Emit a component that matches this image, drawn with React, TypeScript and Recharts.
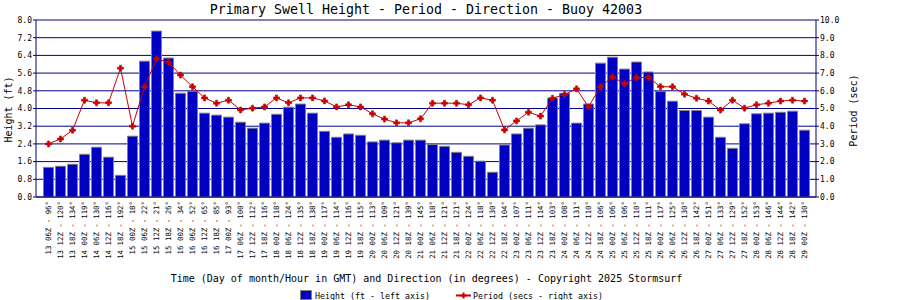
import React from "react";
import { ComposedChart, Bar, Line, XAxis, YAxis, CartesianGrid, Label } from "recharts";

const times = ["13 06Z","13 12Z","13 18Z","14 00Z","14 06Z","14 12Z","14 18Z","15 00Z","15 06Z","15 12Z","15 18Z","16 00Z","16 06Z","16 12Z","16 18Z","17 00Z","17 06Z","17 12Z","17 18Z","18 00Z","18 06Z","18 12Z","18 18Z","19 00Z","19 06Z","19 12Z","19 18Z","20 00Z","20 06Z","20 12Z","20 18Z","21 00Z","21 06Z","21 12Z","21 18Z","22 00Z","22 06Z","22 12Z","22 18Z","23 00Z","23 06Z","23 12Z","23 18Z","24 00Z","24 06Z","24 12Z","24 18Z","25 00Z","25 06Z","25 12Z","25 18Z","26 00Z","26 06Z","26 12Z","26 18Z","27 00Z","27 06Z","27 12Z","27 18Z","28 00Z","28 06Z","28 12Z","28 18Z","29 00Z"];

const directions = [96,120,134,119,130,116,192,18,22,21,26,34,52,65,85,93,100,112,116,118,124,135,138,117,114,116,115,113,109,121,139,145,118,121,121,124,118,130,104,107,111,114,103,108,131,110,106,106,106,110,111,117,125,130,142,151,133,129,152,153,146,144,142,130];

const heights = [
  1.34, 1.39, 1.48, 1.93, 2.25, 1.80, 0.98, 2.75, 6.14, 7.50, 6.28, 4.69, 4.78, 3.79, 3.70, 3.61,
  3.38, 3.11, 3.34, 3.74, 4.06, 4.20, 3.79, 2.97, 2.70, 2.85, 2.79, 2.49, 2.57, 2.45, 2.57, 2.57,
  2.37, 2.29, 2.02, 1.84, 1.62, 1.12, 2.35, 2.85, 3.11, 3.26, 4.47, 4.69, 3.34, 4.20, 6.05, 6.32,
  5.78, 6.10, 5.65, 4.78, 4.33, 3.91, 3.91, 3.61, 2.70, 2.20, 3.31, 3.76, 3.79, 3.83, 3.88, 3.02,
];

const periods = [
  3.0, 3.28, 3.77, 5.47, 5.32, 5.32, 7.28, 4.0, 6.23, 7.81, 7.62, 6.89, 6.23, 5.60, 5.30, 5.47,
  4.92, 5.02, 5.09, 5.60, 5.32, 5.60, 5.60, 5.43, 5.09, 5.21, 5.09, 4.70, 4.40, 4.19, 4.19, 4.42,
  5.30, 5.30, 5.30, 5.21, 5.60, 5.47, 3.79, 4.30, 4.79, 4.57, 5.58, 5.79, 6.11, 5.09, 6.23, 6.79,
  6.40, 6.75, 6.75, 6.23, 6.23, 5.81, 5.58, 5.42, 4.91, 5.47, 5.02, 5.21, 5.30, 5.42, 5.47, 5.42,
];

const heightTicks = [0, 0.8, 1.6, 2.4, 3.2, 4.0, 4.8, 5.6, 6.4, 7.2, 8.0];
const periodTicks = [0, 1, 2, 3, 4, 5, 6, 7, 8, 9, 10];

const titleText = "Primary Swell Height - Period - Direction - Buoy 42003";
const xTitleText = "Time (Day of month/Hour in GMT) and Direction (in degrees) - Copyright 2025 Stormsurf";
const leftTitle = "Height (ft)";
const rightTitle = "Period (sec)";
const legendHeight = "Height (ft - left axis)";
const legendPeriod = "Period (secs - right axis)";

const data = times.map((t, i) => ({
  label: `${t} - ${directions[i]}\u00b0`,
  height: heights[i],
  period: periods[i],
}));

const FONT = "'DejaVu Sans Mono', monospace";
const NAVY = "#000080";
const BAR = "#0000C0";
const RED = "#C80000";

const XTick = (props: any) => {
  const { x, y, payload } = props;
  return (
    <text
      transform={`translate(${x},${y}) rotate(-90)`}
      textAnchor="end"
      dy="0.33em"
      fontSize={7.4}
      fontFamily={FONT}
      fill="#000"
    >
      {payload.value}
    </text>
  );
};

const Marker = (props: any) => {
  const { cx, cy, index } = props;
  if (cx == null || cy == null) return null;
  const d = `M${cx - 1},${cy - 3}h2v2h2v2h-2v2h-2v-2h-2v-2h2z`;
  return <path key={`m${index}`} d={d} fill={RED} stroke={RED} strokeWidth={0.6} />;
};

const LeftLabel = (props: any) => {
  const vb = props.viewBox || { x: 0, y: 20, width: 36, height: 177 };
  const x = vb.x + 11.5;
  const y = vb.y + vb.height / 2 + 1;
  return (
    <text transform={`translate(${x},${y}) rotate(-90)`} textAnchor="middle" fontSize={10} fontFamily={FONT} fill="#000">
      {leftTitle}
    </text>
  );
};

const RightLabel = (props: any) => {
  const vb = props.viewBox || { x: 816, y: 20, width: 84, height: 177 };
  const x = vb.x + 41;
  const y = vb.y + vb.height / 2 + 2;
  return (
    <text transform={`translate(${x},${y}) rotate(-90)`} textAnchor="middle" fontSize={10} fontFamily={FONT} fill="#000">
      {rightTitle}
    </text>
  );
};

export default function App() {
  return (
    <div style={{ position: "absolute", left: 0, top: 0, width: 900, height: 300, background: "#fff" }}>
      <ComposedChart
        width={900}
        height={300}
        data={data}
        margin={{ top: 20, right: 0, bottom: 33, left: 0 }}
        barCategoryGap={0}
      >
        <CartesianGrid yAxisId="left" vertical={false} stroke={NAVY} strokeWidth={1} />
        <XAxis
          dataKey="label"
          interval={0}
          height={70}
          padding={{ left: 6.5, right: 5.5 }}
          tick={<XTick />}
          tickLine={false}
          tickSize={0}
          tickMargin={4}
          axisLine={{ stroke: NAVY, strokeWidth: 1 }}
        />
        <YAxis
          yAxisId="left"
          orientation="left"
          width={36}
          domain={[0, 8]}
          ticks={heightTicks}
          interval={0}
          tickFormatter={(v: number) => v.toFixed(1)}
          tick={{ fontSize: 8, fontFamily: FONT, fill: "#000" }}
          tickSize={3}
          tickMargin={1}
          tickLine={{ stroke: NAVY }}
          axisLine={{ stroke: NAVY, strokeWidth: 1 }}
        >
          <Label content={<LeftLabel />} />
        </YAxis>
        <YAxis
          yAxisId="right"
          orientation="right"
          width={84}
          domain={[0, 10]}
          ticks={periodTicks}
          interval={0}
          tickFormatter={(v: number) => v.toFixed(1)}
          tick={{ fontSize: 8, fontFamily: FONT, fill: "#000" }}
          tickSize={3}
          tickMargin={1}
          tickLine={{ stroke: NAVY }}
          axisLine={{ stroke: NAVY, strokeWidth: 1 }}
        >
          <Label content={<RightLabel />} />
        </YAxis>
        <Bar
          yAxisId="left"
          dataKey="height"
          fill={BAR}
          stroke="#808080"
          strokeWidth={1}
          barSize={10}
          isAnimationActive={false}
        />
        <Line
          yAxisId="right"
          dataKey="period"
          type="linear"
          stroke={RED}
          strokeWidth={1}
          dot={<Marker />}
          activeDot={false}
          isAnimationActive={false}
        />
      </ComposedChart>
      <svg
        width={900}
        height={300}
        style={{ position: "absolute", left: 0, top: 0, pointerEvents: "none" }}
      >
        <text x={426} y={13.5} textAnchor="middle" fontSize={13.3} fontFamily={FONT} fill="#000">
          {titleText}
        </text>
        <text x={426.5} y={282} textAnchor="middle" fontSize={10} fontFamily={FONT} fill="#000">
          {xTitleText}
        </text>
        <rect x={300.5} y={290.5} width={11} height={9} fill={BAR} stroke="#808080" strokeWidth={1} />
        <text x={315} y={299} fontSize={8.3} fontFamily={FONT} fill="#000">
          {legendHeight}
        </text>
        <line x1={456} y1={295.5} x2={471} y2={295.5} stroke={RED} strokeWidth={2} />
        <path d="M462.5,292.5h2v2h2v2h-2v2h-2v-2h-2v-2h2z" fill={RED} />
        <text x={473} y={299} fontSize={8.3} fontFamily={FONT} fill="#000">
          {legendPeriod}
        </text>
      </svg>
    </div>
  );
}
